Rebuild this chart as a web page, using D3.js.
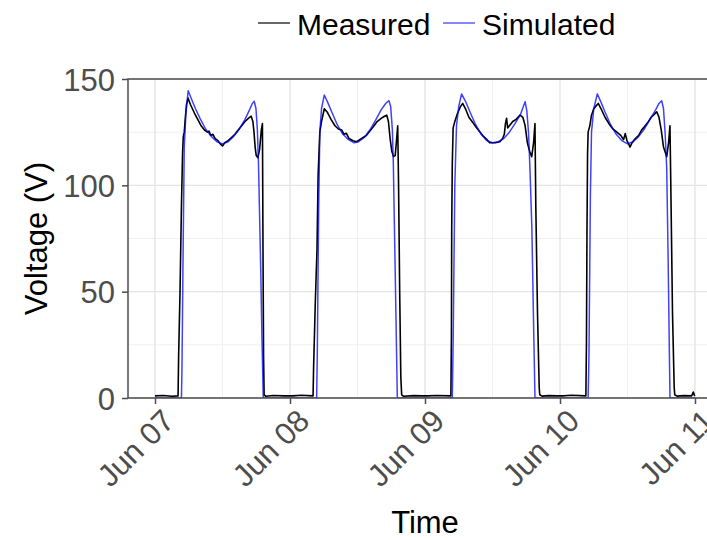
<!DOCTYPE html>
<html>
<head>
<meta charset="utf-8">
<script src="https://cdn.jsdelivr.net/npm/d3@7"></script>
<style>
  html, body { margin: 0; padding: 0; background: #ffffff; }
  svg { display: block; font-family: "Liberation Sans", Arial, sans-serif; }
</style>
</head>
<body>
<svg id="chart" width="707" height="540"></svg>
<script>
// Hours counted from Jun 07 00:00 (UTC), and the voltage at each time.
const measuredHours = [
  0, 1.5, 3.0, 4.1, 4.2, 4.45, 4.7, 4.9, 5.03, 5.2, 5.4, 5.6, 5.87, 6.3, 7.0, 7.6, 8.2, 8.8, 9.3, 9.6, 9.9,
  10.3, 10.7, 11.2, 11.6, 12.0, 12.4, 13.0, 13.6, 14.2, 14.8, 15.4, 16.0, 16.6, 17.1, 17.4, 17.6, 17.8, 18.0,
  18.3, 18.6, 18.9, 19.1, 19.2, 19.3, 19.4, 19.7, 21.0, 23.0,
  24.5, 26.0, 28.1, 28.2, 28.5, 28.8, 29.0, 29.3, 29.6, 30.1, 30.6, 31.3, 32.0, 32.6, 33.2, 33.6, 34.0, 34.5,
  35.2, 35.85, 36.4, 37.0, 37.6, 38.2, 38.8, 39.5, 40.2, 40.8, 41.2, 41.5, 41.8, 42.1, 42.4, 42.7, 42.9, 43.15,
  43.3, 43.5, 43.7, 43.85, 44.2, 46.0, 47.5,
  48.5, 50.0, 52.6, 52.7, 52.75, 52.85, 53.0, 53.3, 53.8, 54.3, 54.7, 55.2, 55.8, 56.5, 57.2, 57.8, 58.4, 59.0,
  59.5, 60.5, 61.3, 61.8, 62.1, 62.3, 62.5, 62.7, 63.0, 63.6, 64.2, 64.9, 65.4, 65.8, 66.2, 66.6, 66.97, 67.3,
  67.55, 67.7, 68.0, 68.3, 68.4, 68.8, 70.0, 71.5,
  72.5, 74.0, 76.6, 76.7, 76.8, 76.9, 77.0, 77.3, 77.6, 78.0, 78.3, 78.8, 79.3, 80.0, 80.7, 81.4, 82.1, 82.8,
  83.3, 83.6, 83.9, 84.2, 84.44, 84.8, 85.4, 86.0, 86.5, 87.0, 87.6, 88.2, 88.8, 89.2, 89.6, 90.0, 90.4, 90.97,
  91.3, 91.55, 91.7, 92.0, 92.3, 92.4, 92.8, 94.0, 95.4, 95.7, 95.9, 96.0
];
const measuredVolts = [
  1.0, 1.2, 0.8, 1.0, 20, 50, 90, 115, 123, 125, 132, 138, 141, 138, 134, 131, 128, 126, 125, 125.5, 123.5,
  124, 122, 121, 119.5, 118.5, 120, 121, 122.5, 124, 126, 128, 130, 131.5, 132.5, 130, 125, 118, 114,
  113, 117, 126, 129, 70, 20, 1.5, 0.8, 1.2, 1.0,
  1.0, 1.3, 1.0, 15, 45, 70, 105, 125, 130, 136, 134.5, 131, 128, 126.5, 126, 124, 124.5, 122,
  121, 120.5, 121.5, 122.5, 123.5, 125.5, 127.5, 130, 131.5, 132.5, 133, 130, 122, 116, 113.5, 114, 120, 128,
  100, 50, 10, 1.5, 0.8, 1.1, 1.0,
  1.0, 1.2, 1.0, 30, 80, 110, 127, 130, 134, 137, 138.5, 136, 132, 129.5, 127, 125, 123, 121.5,
  120, 120, 120.5, 122, 124, 129, 131.5, 127, 128, 130, 131, 133, 132, 128, 120, 116, 113.5, 120,
  129, 90, 40, 5, 1.5, 0.9, 1.1, 1.0,
  1.0, 1.3, 1.0, 25, 80, 115, 125, 128, 133, 136, 137, 138.5, 136, 132, 129, 126.5, 125, 123.5,
  121.5, 124.4, 121, 119.5, 118, 120, 122, 123.5, 126, 127.5, 129.5, 132, 133.5, 134.6, 132, 126, 118, 113.5,
  120, 128, 100, 40, 5, 1.5, 0.9, 1.1, 1.0, 2.8, 1.2, 1.0
];

const simulatedHours = [
  0, 4.7, 4.8, 5.0, 5.2, 5.5, 5.9, 6.5, 7.2, 8.0, 9.0, 10.0, 11.0, 12.0, 13.0, 14.0, 15.0, 16.0, 16.8, 17.3,
  17.65, 17.95, 18.2, 18.4, 18.8, 19.0, 19.25,
  28.74, 28.85, 29.1, 29.3, 29.6, 30.1, 30.7, 31.5, 32.4, 33.4, 34.4, 35.4, 36.2, 37.2, 38.2, 39.2, 40.2, 41.0,
  41.6, 41.9, 42.2, 42.37, 42.7, 43.08,
  52.85, 53.0, 53.3, 53.6, 54.0, 54.5, 55.2, 56.0, 57.0, 58.0, 59.0, 60.0, 61.0, 62.0, 63.0, 64.0, 65.0, 65.4,
  65.8, 66.1, 66.4, 66.67, 67.0, 67.3, 67.55,
  77.0, 77.15, 77.4, 77.6, 78.0, 78.63, 79.3, 80.0, 81.0, 82.0, 83.0, 84.0, 85.0, 86.0, 87.0, 88.0, 89.0, 89.6,
  90.08, 90.4, 90.7, 90.97, 91.2, 91.55, 96.0
];
const simulatedVolts = [
  0, 0, 15, 70, 118, 134, 144.5, 140.5, 136, 131.5, 126.5, 123, 120.5, 119.5, 120.5, 123, 126.5, 131, 135.5, 138.5,
  139.5, 136, 126, 110, 60, 30, 0,
  0, 20, 90, 125, 136, 142.5, 139, 134, 128.5, 124, 121.5, 120, 120.5, 122.5, 126, 130.5, 135.5, 138.5,
  139.8, 137, 126, 110, 60, 0,
  0, 25, 100, 128, 137, 143, 139.5, 134.5, 128.5, 124, 121, 120, 120.5, 122, 125, 129, 133.5, 136.5,
  139.3, 135, 125, 107, 80, 35, 0,
  0, 20, 95, 125, 136, 143, 139, 134.5, 128.5, 124, 121, 119.5, 120.5, 123, 126.5, 131, 135.5, 138.5,
  139.8, 136, 124, 108, 70, 0, 0
];

const yTicks = [0, 50, 100, 150];
const yMinorTicks = [25, 75, 125];
const seriesNames = ["Measured", "Simulated"];
const seriesColors = ["#000000", "#0000ff"];

const startMs = Date.UTC(2021, 5, 7);
const toDate = h => new Date(startMs + h * 3600 * 1000);
const measured = measuredHours.map((h, i) => ({ t: toDate(h), v: measuredVolts[i] }));
const simulated = simulatedHours.map((h, i) => ({ t: toDate(h), v: simulatedVolts[i] }));

const svg = d3.select("#chart");
const panel = { left: 128, top: 79, bottom: 398 };

// time range of the data, padded 5% on each side
const ext = d3.extent(measured, d => d.t);
const pad = (ext[1] - ext[0]) * 0.05;
const xRange = [panel.left, panel.left + 594];
const x = d3.scaleUtc()
  .domain([new Date(+ext[0] - pad), new Date(+ext[1] + pad)])
  .range(xRange);
const y = d3.scaleLinear().domain([0, 150]).range([panel.bottom, panel.top]);

const W = xRange[1] - xRange[0];
const H = panel.bottom - panel.top;

// grid: days and voltage steps of 50 as major lines, midday and 25 V steps as minor
const grid = svg.append("g");
const dayTicks = x.ticks(d3.utcDay.every(1));
const xMinor = x.ticks(d3.utcHour.every(12)).filter(d => d.getUTCHours() === 12);

grid.selectAll("line.ymin").data(yMinorTicks).join("line")
  .attr("x1", xRange[0]).attr("x2", xRange[1])
  .attr("y1", d => y(d)).attr("y2", d => y(d))
  .attr("stroke", "#f0f0f0").attr("stroke-width", 1);
grid.selectAll("line.xmin").data(xMinor).join("line")
  .attr("x1", d => x(d)).attr("x2", d => x(d))
  .attr("y1", panel.top).attr("y2", panel.bottom)
  .attr("stroke", "#f0f0f0").attr("stroke-width", 1);
grid.selectAll("line.ymaj").data(yTicks).join("line")
  .attr("x1", xRange[0]).attr("x2", xRange[1])
  .attr("y1", d => y(d)).attr("y2", d => y(d))
  .attr("stroke", "#e4e4e4").attr("stroke-width", 1.4);
grid.selectAll("line.xmaj").data(dayTicks).join("line")
  .attr("x1", d => x(d)).attr("x2", d => x(d))
  .attr("y1", panel.top).attr("y2", panel.bottom)
  .attr("stroke", "#e4e4e4").attr("stroke-width", 1.4);

// series
svg.append("clipPath").attr("id", "clip").append("rect")
  .attr("x", xRange[0]).attr("y", panel.top).attr("width", W).attr("height", H);
const line = d3.line().x(d => x(d.t)).y(d => y(d.v));
const plot = svg.append("g").attr("clip-path", "url(#clip)");
plot.append("path").datum(measured).attr("d", line)
  .attr("fill", "none").attr("stroke", seriesColors[0]).attr("stroke-width", 1.6)
  .attr("stroke-linejoin", "round");
plot.append("path").datum(simulated).attr("d", line)
  .attr("fill", "none").attr("stroke", seriesColors[1]).attr("stroke-width", 1.5)
  .attr("stroke-opacity", 0.75).attr("stroke-linejoin", "round");

// panel border
svg.append("rect").attr("x", xRange[0]).attr("y", panel.top).attr("width", W).attr("height", H)
  .attr("fill", "none").attr("stroke", "#4d4d4d").attr("stroke-width", 1.5);

// axes
const yAxis = svg.append("g").attr("transform", `translate(${xRange[0]},0)`)
  .call(d3.axisLeft(y).tickValues(yTicks).tickSize(6).tickPadding(7));
yAxis.select(".domain").remove();
yAxis.selectAll(".tick line").attr("stroke", "#4d4d4d").attr("stroke-width", 1.5);
yAxis.selectAll(".tick text").attr("fill", "#4d4d4d").attr("font-size", 31)
  .attr("font-family", "Liberation Sans, Arial, sans-serif").attr("dy", "0.36em");

const xAxis = svg.append("g").attr("transform", `translate(0,${panel.bottom})`)
  .call(d3.axisBottom(x).ticks(d3.utcDay.every(1)).tickFormat(d3.utcFormat("%b %d")).tickSize(6));
xAxis.select(".domain").remove();
xAxis.selectAll(".tick line").attr("stroke", "#4d4d4d").attr("stroke-width", 1.5);
xAxis.selectAll(".tick text")
  .attr("fill", "#4d4d4d").attr("font-size", 31)
  .attr("font-family", "Liberation Sans, Arial, sans-serif")
  .attr("text-anchor", "end")
  .attr("x", 0).attr("y", 0).attr("dy", "0.72em")
  .attr("transform", "translate(5,9) rotate(-45)");

// axis titles
svg.append("text").attr("x", (xRange[0] + xRange[1]) / 2).attr("y", 533)
  .attr("text-anchor", "middle").attr("font-size", 31).attr("fill", "#000").text("Time");
svg.append("text").attr("transform", `translate(47,${(panel.top + panel.bottom) / 2}) rotate(-90)`)
  .attr("text-anchor", "middle").attr("font-size", 31).attr("fill", "#000").text("Voltage (V)");

// legend
const legendItems = [
  { name: seriesNames[0], color: seriesColors[0], x: 258 },
  { name: seriesNames[1], color: seriesColors[1], x: 443 }
];
const lg = svg.append("g");
legendItems.forEach(it => {
  lg.append("line").attr("x1", it.x).attr("x2", it.x + 32).attr("y1", 23).attr("y2", 23)
    .attr("stroke", it.color).attr("stroke-width", 1.6)
    .attr("stroke-opacity", it.color === "#0000ff" ? 0.6 : 0.75);
  lg.append("text").attr("x", it.x + 39).attr("y", 35)
    .attr("font-size", 30).attr("fill", "#000").text(it.name);
});
</script>
</body>
</html>
